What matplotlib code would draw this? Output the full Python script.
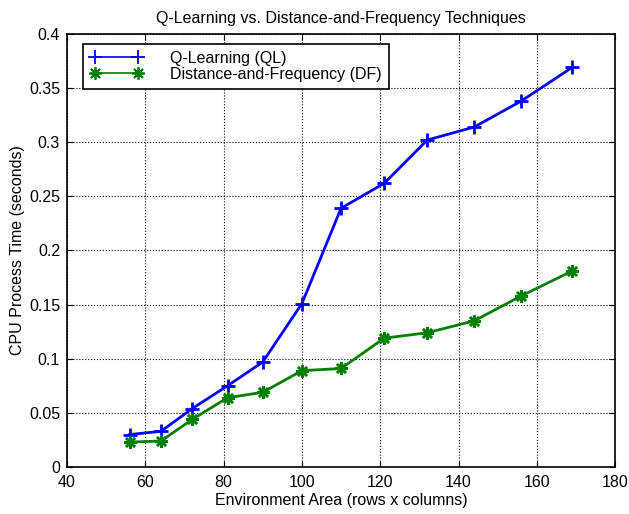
import matplotlib.pyplot as plt
import numpy as np

plt.rcParams['font.family'] = ['Liberation Sans', 'DejaVu Sans']

area = [56, 64, 72, 81, 90, 100, 110, 121, 132, 144, 156, 169]
ql_time = [0.030, 0.033, 0.054, 0.075, 0.097, 0.151, 0.239, 0.262, 0.302, 0.314, 0.338, 0.369]
df_time = [0.023, 0.024, 0.044, 0.064, 0.069, 0.089, 0.091, 0.119, 0.124, 0.135, 0.158, 0.181]

fig = plt.figure(figsize=(6.29, 5.14), dpi=100)
ax = fig.add_axes([0.1065, 0.0914, 0.8715, 0.8426])

ax.plot(area, ql_time, color='blue', lw=2, marker='+', ms=10, mew=2, label='Q-Learning (QL)')
ax.plot(area, df_time, color='green', lw=2, marker=(8, 2, 0), ms=9, mew=1.8, label='Distance-and-Frequency (DF)')

ax.set_xlim(40, 180)
ax.set_ylim(0, 0.4)
ax.set_xticks(np.arange(40, 181, 20))
ax.set_yticks(np.arange(0, 0.41, 0.05))
ax.set_yticklabels(['0', '0.05', '0.1', '0.15', '0.2', '0.25', '0.3', '0.35', '0.4'])
ax.tick_params(direction='in', top=True, right=True, labelsize=11.5, length=4)
ax.tick_params(axis='x', pad=6)
ax.tick_params(axis='y', pad=5)
ax.grid(True, color='black', linestyle=':', linewidth=0.8)
for s in ax.spines.values():
    s.set_linewidth(1.2)

ax.set_title('Q-Learning vs. Distance-and-Frequency Techniques', fontsize=11.5, pad=8)
ax.set_xlabel('Environment Area (rows x columns)', fontsize=11.5, labelpad=2)
ax.set_ylabel('CPU Process Time (seconds)', fontsize=11.5, labelpad=3)

leg = ax.legend(loc='upper left', fontsize=11.5, fancybox=False, framealpha=1,
                edgecolor='black', handlelength=3.3, handletextpad=1.7, numpoints=2,
                borderpad=0.45, labelspacing=0.05, borderaxespad=0,
                bbox_to_anchor=(0.029, 0.977))
leg.get_frame().set_linewidth(1.2)
for h in leg.get_lines():
    h.set_linewidth(1.2)
    h.set_markeredgewidth(1.3)

fig.savefig('out.png')
